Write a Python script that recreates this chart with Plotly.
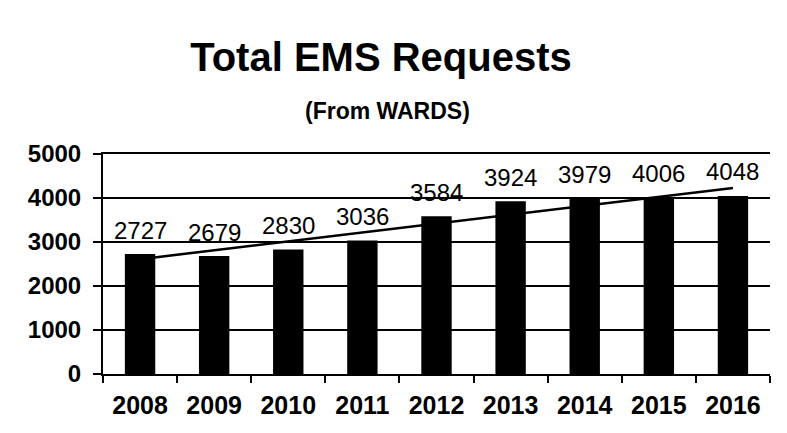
import plotly.graph_objects as go

# ── Datos ─────────────────────────────────────────────────────────────────────
YEARS = ["2008", "2009", "2010", "2011", "2012", "2013", "2014", "2015", "2016"]
REQUESTS = [2727, 2679, 2830, 3036, 3584, 3924, 3979, 4006, 4048]

# línea de tendencia (extremos 2008 y 2016)
TREND_YEARS = ["2008", "2016"]
TREND_VALUES = [2610, 4225]

Y_TICKS = [0, 1000, 2000, 3000, 4000, 5000]

FONT = "Arial, Liberation Sans, sans-serif"
BLACK = "#000000"
W, H = 787, 433

fig = go.Figure()

fig.add_trace(go.Bar(
    x=YEARS,
    y=REQUESTS,
    marker=dict(color=BLACK, line=dict(width=0)),
    hovertemplate="%{x}: %{y}<extra></extra>",
))

fig.add_trace(go.Scatter(
    x=TREND_YEARS,
    y=TREND_VALUES,
    mode="lines",
    line=dict(color=BLACK, width=2.5),
    hoverinfo="skip",
))

# etiquetas de valor sobre cada barra (x = índice de categoría)
labels = [
    dict(
        x=i, y=val, xref="x", yref="y",
        text=str(val), showarrow=False,
        yanchor="middle", yshift=24,
        font=dict(size=24, color=BLACK, family=FONT),
    )
    for i, val in enumerate(REQUESTS)
]

subtitle = [dict(
    text="(From WARDS)",
    x=(387 - 103) / 667, y=1 + (154 - 111) / 220, xref="paper", yref="paper",
    showarrow=False, xanchor="center", yanchor="middle",
    font=dict(size=23, color=BLACK, family=FONT, weight="bold"),
)]

fig.update_layout(
    width=W,
    height=H,
    showlegend=False,
    bargap=0.59,
    paper_bgcolor="white",
    plot_bgcolor="white",
    title=dict(
        text="Total EMS Requests",
        x=381 / W, xref="container", xanchor="center",
        y=1 - 57 / H, yref="container", yanchor="middle",
        font=dict(size=40, color=BLACK, family=FONT, weight="bold"),
    ),
    margin=dict(l=103, r=17, t=154, b=59),
    xaxis=dict(
        type="category",
        categoryorder="array", categoryarray=YEARS,
        range=[-0.5, len(YEARS) - 0.5],
        showgrid=False,
        showline=True, linecolor=BLACK, linewidth=2, mirror=True,
        ticks="outside", tickson="boundaries", ticklen=7, tickwidth=2, tickcolor=BLACK,
        tickfont=dict(size=25, color=BLACK, family=FONT, weight="bold"),
        ticklabelstandoff=8,
    ),
    yaxis=dict(
        range=[0, 5000],
        tickvals=Y_TICKS,
        showgrid=True, gridcolor=BLACK, gridwidth=2,
        showline=True, linecolor=BLACK, linewidth=2,
        ticks="outside", ticklen=8, tickwidth=2, tickcolor=BLACK,
        tickfont=dict(size=24, color=BLACK, family=FONT, weight="bold"),
        ticklabelstandoff=7,
        zeroline=False,
    ),
    annotations=labels + subtitle,
    font=dict(family=FONT, color=BLACK),
)

# sin margen del body para que la figura ocupe la ventana exacta
fig.write_html(
    "out.html",
    config={"displayModeBar": False},
    post_script="document.body.style.margin='0';",
)
